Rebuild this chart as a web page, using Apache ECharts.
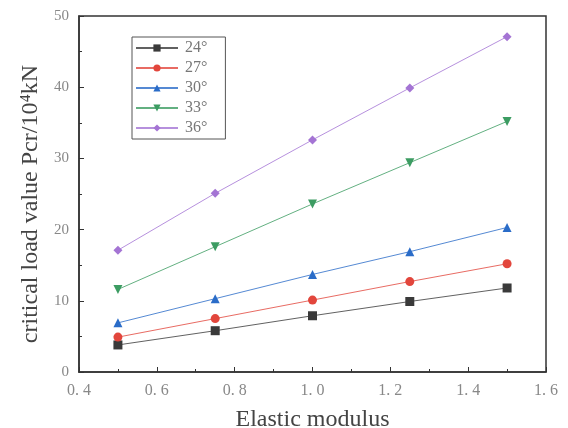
<!DOCTYPE html>
<html><head><meta charset="utf-8">
<script src="https://cdn.jsdelivr.net/npm/echarts@6/dist/echarts.min.js"></script>
<style>html,body{margin:0;padding:0;background:#fff}#c{width:568px;height:428px}</style>
</head><body><div id="c"></div>
<script>
const modulus = [0.5, 0.75, 1.0, 1.25, 1.5];
const s24 = [3.8, 5.8, 7.9, 9.9, 11.8];
const s27 = [4.9, 7.5, 10.1, 12.7, 15.2];
const s30 = [6.9, 10.3, 13.7, 16.9, 20.3];
const s33 = [11.6, 17.6, 23.6, 29.4, 35.2];
const s36 = [17.1, 25.1, 32.6, 39.9, 47.1];
const seriesNames = ['24°', '27°', '30°', '33°', '36°'];
const seriesColors = ['#3a3a3a', '#e2463c', '#2a6cc8', '#3c9c62', '#a474d4'];
const seriesSymbols = ['rect', 'circle', 'triangle', 'path://M0,0L10,0L5,9Z', 'diamond'];
const allData = [s24, s27, s30, s33, s36];

const serif = '"Liberation Serif","DejaVu Serif",serif';
const chart = echarts.init(document.getElementById('c'));
chart.setOption({
  animation: false,
  backgroundColor: '#fff',
  grid: {left: 79, right: 22, top: 16, bottom: 56, show: true, borderColor: '#333', borderWidth: 1.5,
    containLabel: false, outerBoundsMode: 'none'},
  legend: {
    orient: 'vertical', left: 132, top: 37,
    data: seriesNames,
    borderColor: '#555', borderWidth: 1, padding: [3, 18, 3, 3],
    itemWidth: 42, itemHeight: 9, itemGap: 4,
    textStyle: {fontFamily: serif, fontSize: 16, color: '#777', lineHeight: 16, padding: [0, 0, 0, 2]}
  },
  xAxis: {
    type: 'value', min: 0.4, max: 1.6, interval: 0.2,
    name: 'Elastic modulus', nameLocation: 'middle', nameGap: 36,
    nameTextStyle: {fontFamily: serif, fontSize: 24, color: '#444'},
    axisLine: {show: true, lineStyle: {color: '#333', width: 1.5}},
    axisTick: {inside: true, length: 5, lineStyle: {color: '#333'}},
    minorTick: {show: true, splitNumber: 2, length: 3, lineStyle: {color: '#333'}},
    splitLine: {show: false},
    axisLabel: {fontFamily: serif, fontSize: 16, color: '#888', margin: 11,
      formatter: v => v.toFixed(1).replace('.', '. ')}
  },
  yAxis: {
    type: 'value', min: 0, max: 50, interval: 10,
    name: 'critical load value Pcr/10⁴kN', nameLocation: 'middle', nameGap: 34,
    nameTextStyle: {fontFamily: serif, fontSize: 24, color: '#444', padding: [0, 20, 0, 0]},
    axisLine: {show: true, lineStyle: {color: '#333', width: 1.5}},
    axisTick: {inside: true, length: 5, lineStyle: {color: '#333'}},
    minorTick: {show: true, splitNumber: 2, length: 3, lineStyle: {color: '#333'}},
    splitLine: {show: false},
    axisLabel: {fontFamily: serif, fontSize: 15, color: '#888', margin: 10}
  },
  series: seriesNames.map((n, i) => ({
    name: n, type: 'line',
    data: modulus.map((x, j) => [x, allData[i][j]]),
    symbol: seriesSymbols[i], symbolSize: 9, showSymbol: true,
    itemStyle: {color: seriesColors[i]},
    lineStyle: {color: seriesColors[i], width: 1, opacity: 0.8}
  }))
});
</script></body></html>
